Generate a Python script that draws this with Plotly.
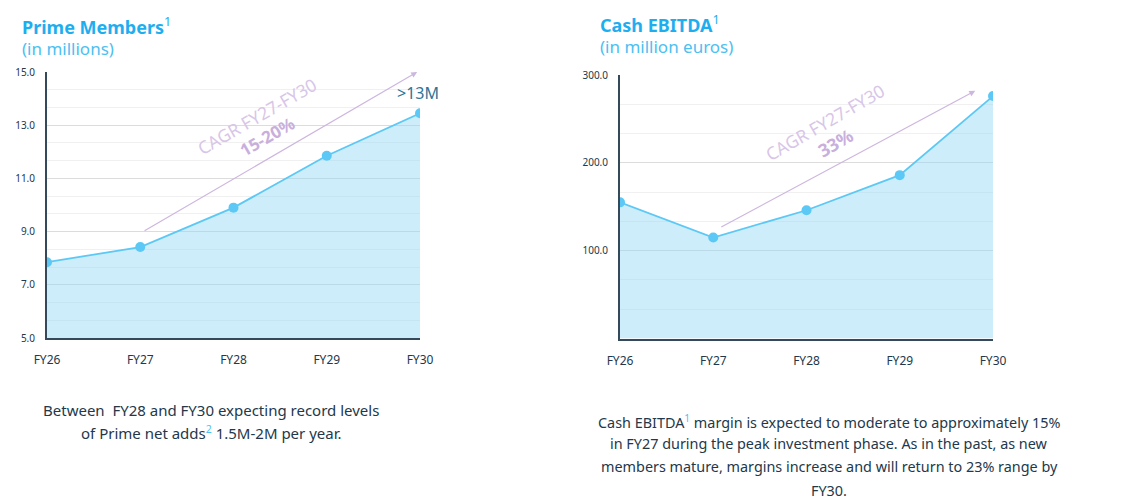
import plotly.graph_objects as go

# ---- data ----
years = ["FY26", "FY27", "FY28", "FY29", "FY30"]
prime_members = [7.85, 8.42, 9.9, 11.85, 13.45]
cash_ebitda = [155, 115, 146, 186, 276]
prime_ticks = [5.0, 7.0, 9.0, 11.0, 13.0, 15.0]
ebitda_ticks = [100.0, 200.0, 300.0]

W, H = 1128, 503
FONT = "Noto Sans"
BLUE = "#1eaef0"
LINE = "#5cc8f5"
FILL = "rgba(145,215,247,0.45)"
PURPLE = "#cdb6df"
TXT = "#23384a"

def px(x):
    return x / W

def py(y):
    return 1 - y / H

xs = list(range(len(years)))

fig = go.Figure()
for data, xa, ya in [(prime_members, "x", "y"), (cash_ebitda, "x2", "y2")]:
    fig.add_trace(go.Scatter(
        x=xs, y=data, xaxis=xa, yaxis=ya, mode="lines+markers",
        line=dict(color=LINE, width=1.8),
        marker=dict(color=LINE, size=10),
        fill="tozeroy", fillcolor=FILL, hoverinfo="skip", showlegend=False,
    ))

common_x = dict(
    tickmode="array", tickvals=xs, ticktext=years, range=[0, 4],
    showgrid=False, zeroline=False, showline=True, linecolor="#34495a", linewidth=2,
    ticks="", ticklabelstandoff=10, automargin=False,
    tickfont=dict(family=FONT, size=12, color=TXT),
)
common_y = dict(
    showline=True, linecolor="#34495a", linewidth=2, zeroline=False,
    tickformat=".1f", ticks="", ticklabelstandoff=8, automargin=False,
    tickfont=dict(family=FONT, size=10, color=TXT),
    showgrid=True, gridcolor="#dcdcdc", gridwidth=1,
)

fig.update_layout(
    template="none",
    width=W, height=H, margin=dict(l=0, r=0, t=0, b=0, pad=0, autoexpand=False),
    paper_bgcolor="white", plot_bgcolor="white",
    xaxis=dict(domain=[px(47), px(420)], anchor="y", **common_x),
    yaxis=dict(domain=[py(338), py(72)], anchor="x", range=[5, 15],
               tickmode="array", tickvals=prime_ticks,
               minor=dict(dtick=2/3, tick0=5, showgrid=True, gridcolor="#f0f0f0", gridwidth=1, ticks=""),
               **common_y),
    xaxis2=dict(domain=[px(620), px(993)], anchor="y2", **common_x),
    yaxis2=dict(domain=[py(338.5), py(75)], anchor="x2", range=[0, 300],
                tickmode="array", tickvals=ebitda_ticks,
                minor=dict(dtick=100/3, tick0=0, showgrid=True, gridcolor="#f0f0f0", gridwidth=1, ticks=""),
                **common_y),
)

ann = []

def text(x, y, t, size, color, xanchor="center", angle=0):
    ann.append(dict(x=px(x), y=py(y), xref="paper", yref="paper", xanchor=xanchor,
                    yanchor="middle", text=t, showarrow=False, textangle=angle,
                    font=dict(family=FONT, size=size, color=color)))

# Titles
text(20, 26, "<b>Prime Members</b><sup>1</sup>", 18, BLUE, "left")
text(20, 48, "(in millions)", 17, "#4cc0f2", "left")
text(598, 24, "<b>Cash EBITDA</b><sup>1</sup>", 18, BLUE, "left")
text(598, 47, "(in million euros)", 17, "#4cc0f2", "left")

# CAGR arrows
ann.append(dict(x=3.97, y=15.0, ax=1.03, ay=9.0, xref="x", yref="y", axref="x", ayref="y",
                showarrow=True, arrowhead=2, arrowsize=1, arrowwidth=1.2, arrowcolor=PURPLE, text=""))
ann.append(dict(x=3.81, y=282, ax=1.07, ay=126, xref="x2", yref="y2", axref="x2", ayref="y2",
                showarrow=True, arrowhead=2, arrowsize=1, arrowwidth=1.2, arrowcolor=PURPLE, text=""))

# CAGR text
text(257, 116, "CAGR FY27-FY30", 17.5, "#d8c6e8", angle=-30)
text(267, 136, "<b>15-20%</b>", 17, "#c9afdc", angle=-30)
text(825, 122, "CAGR FY27-FY30", 17.5, "#d8c6e8", angle=-30)
text(835, 143, "<b>33%</b>", 18, "#c9afdc", angle=-30)

text(418, 93, ">13M", 16, "#2f7596")

# Footer texts
SUP = "#4cc0f2"
text(211, 410, "Between  FY28 and FY30 expecting record levels", 15, TXT)
text(211, 432, f"of Prime net adds<sup><span style='color:{SUP}'>2</span></sup> 1.5M-2M per year.", 15, TXT)
text(829, 421, f"Cash EBITDA<sup><span style='color:{SUP}'>1</span></sup> margin is expected to moderate to approximately 15%", 14.4, TXT)
text(829, 443, "in FY27 during the peak investment phase. As in the past, as new", 14.4, TXT)
text(829, 466, "members mature, margins increase and will return to 23% range by", 14.4, TXT)
text(829, 490, "FY30.", 14.4, TXT)

fig.update_layout(annotations=ann)
fig.write_html("out.html")
